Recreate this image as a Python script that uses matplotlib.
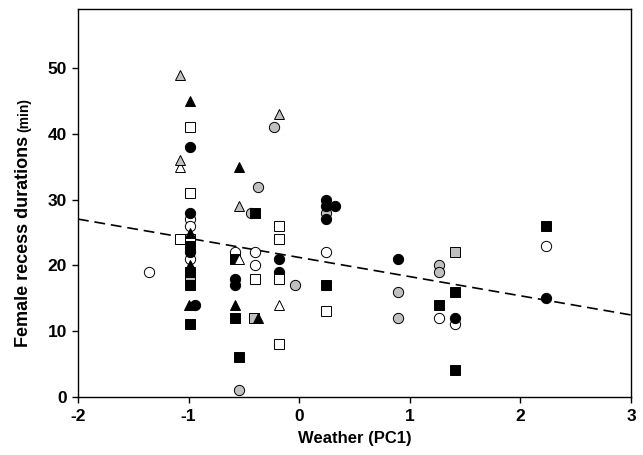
import matplotlib
matplotlib.use("Agg")
from matplotlib import pyplot as plt
from matplotlib.ticker import MultipleLocator

plt.rcParams["font.family"] = ["Liberation Sans", "DejaVu Sans"]
plt.rcParams["axes.unicode_minus"] = False

# weather score (PC1) and female recess duration (min), grouped by marker
black_circle_x = [-0.99, -0.99, -0.99, -0.94, -0.58, -0.58, -0.18, -0.18, 0.24, 0.24, 0.32, 0.24, 0.89, 1.41, 2.23]
black_circle_y = [38, 28, 22, 14, 18, 17, 21, 19, 30, 29, 29, 27, 21, 12, 15]

open_circle_x = [-1.36, -0.99, -0.99, -0.99, -0.58, -0.40, -0.40, 0.24, 1.26, 1.41, 2.23]
open_circle_y = [19, 27, 26, 21, 22, 22, 20, 22, 12, 11, 23]

gray_circle_x = [-0.23, -0.37, -0.44, -0.04, -0.54, 0.24, 0.89, 0.89, 1.26, 1.26]
gray_circle_y = [41, 32, 28, 17, 1, 28, 16, 12, 20, 19]

black_square_x = [-0.99, -0.99, -0.99, -0.99, -0.58, -0.58, -0.54, -0.40, 0.24, 1.26, 1.41, 1.41, 2.23]
black_square_y = [23, 19, 17, 11, 21, 12, 6, 28, 17, 14, 16, 4, 26]

open_square_x = [-0.99, -0.99, -1.08, -0.99, -0.40, -0.18, -0.18, -0.18, -0.18, 0.24]
open_square_y = [41, 31, 24, 24, 18, 26, 24, 18, 8, 13]

gray_square_x = [-0.99, -0.41, 1.41]
gray_square_y = [18, 12, 22]

black_triangle_x = [-0.99, -0.54, -0.99, -0.99, -1.00, -0.58, -0.37]
black_triangle_y = [45, 35, 25, 20, 14, 14, 12]

open_triangle_x = [-1.08, -0.54, -0.18]
open_triangle_y = [35, 21, 14]

gray_triangle_x = [-1.08, -1.08, -0.54, -0.18]
gray_triangle_y = [49, 36, 29, 43]

# fitted regression line end points
fit_x = [-2, 3]
fit_y = [27.05, 12.45]

GRAY = "#c0c0c0"

groups = [
    (gray_circle_x, gray_circle_y, "o", GRAY, 7.4),
    (open_circle_x, open_circle_y, "o", "white", 7.4),
    (black_circle_x, black_circle_y, "o", "black", 7.4),
    (open_square_x, open_square_y, "s", "white", 6.5),
    (gray_square_x, gray_square_y, "s", GRAY, 6.5),
    (black_square_x, black_square_y, "s", "black", 6.5),
    (open_triangle_x, open_triangle_y, "^", "white", 7.4),
    (gray_triangle_x, gray_triangle_y, "^", GRAY, 7.4),
    (black_triangle_x, black_triangle_y, "^", "black", 7.4),
]

fig = plt.figure(figsize=(6.43, 4.55), dpi=100)
axis = fig.add_axes([0.1213, 0.1281, 0.86, 0.8515])

axis.plot(fit_x, fit_y, color="black", linestyle=(0, (6.5, 3.5)), linewidth=1.2, zorder=1)

for xs, ys, marker, face, size in groups:
    axis.plot(
        xs,
        ys,
        linestyle="none",
        marker=marker,
        markersize=size,
        markerfacecolor=face,
        markeredgecolor="black",
        markeredgewidth=0.7,
        zorder=3,
    )

axis.set_xlim(-2, 3)
axis.set_ylim(0, 59)
axis.xaxis.set_major_locator(MultipleLocator(1))
axis.yaxis.set_major_locator(MultipleLocator(10))

axis.tick_params(direction="out", length=4.5, width=1, labelsize=12.5, top=False, right=False)
axis.tick_params(axis="x", pad=4.5)
for label in axis.get_xticklabels() + axis.get_yticklabels():
    label.set_fontweight("bold")
for spine in axis.spines.values():
    spine.set_linewidth(1)

axis.set_xlabel("Weather (PC1)", fontsize=12, fontweight="bold", labelpad=5)

# y label: main part plus a smaller "(min)" on the same baseline
ylab_x = 28 / 643
ylab_y = 1 - 347 / 455
ylab = fig.text(ylab_x, ylab_y, "Female recess durations", rotation=90,
                rotation_mode="anchor", ha="left", va="baseline",
                fontsize=13, fontweight="bold")
fig.canvas.draw()
ext = ylab.get_window_extent()
top = fig.transFigure.inverted().transform((0, ext.y1))[1]
fig.text(ylab_x, top + 4 / 455, "(min)", rotation=90, rotation_mode="anchor",
         ha="left", va="baseline", fontsize=10, fontweight="bold")

fig.savefig("out.png", dpi=100)
